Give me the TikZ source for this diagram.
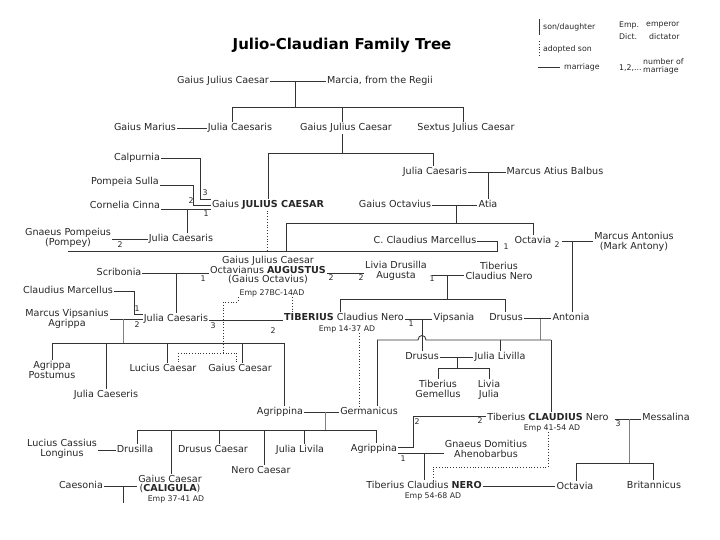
\documentclass[tikz,border=0pt]{standalone}
\usepackage{fontspec}
\setmainfont{DejaVu Sans}
\usetikzlibrary{calc}
\newcommand\namefont{\fontsize{9.6}{9.4}\selectfont}
\newcommand\empfont{\fontsize{7.8}{8}\selectfont}
\newcommand\numfont{\fontsize{7.8}{8}\selectfont}
\newcommand\legfont{\fontsize{7.8}{8.2}\selectfont}
\colorlet{ink}{black!85}
\colorlet{lnk}{black!80}
\colorlet{lgray}{black!50}
\tikzset{
  pn/.style={font=\namefont, text=ink, inner sep=1pt, text height=7pt, text depth=2pt},
  pn2/.style={font=\namefont, text=ink, inner sep=1pt, align=center},
  emp/.style={font=\empfont, text=ink, inner sep=0.5pt},
  num/.style={font=\numfont, text=ink, inner sep=0pt},
  leg/.style={font=\legfont, text=ink, inner sep=1pt},
  ttl/.style={font=\fontsize{15}{18}\selectfont\bfseries, inner sep=0pt},
  ln/.style={draw=lnk, line width=0.85pt},
  lnl/.style={draw=lgray, line width=0.7pt},
  adp/.style={draw=lnk, line width=0.8pt, dotted}
}

\begin{document}
\begin{tikzpicture}[x=1pt, y=-1pt]
\useasboundingbox (0,0) rectangle (720,540);

\node[ttl] (title) at (342,45) {Julio-Claudian Family Tree};

% legend
\node[leg, anchor=west] (lgson) at (542,27) {son/daughter};
\node[leg, anchor=west] (lgadp) at (542,49) {adopted son};
\node[leg, anchor=west] (lgmar) at (563,67) {marriage};
\node[leg, anchor=west] (lgemp) at (618,25) {Emp.};
\node[leg, anchor=west] (lgempt) at (645,25) {emperor};
\node[leg, anchor=west] (lgdict) at (618,37) {Dict.};
\node[leg, anchor=west] (lgdictt) at (648,37) {dictator};
\node[leg, anchor=west] (lgnum) at (618,68) {1,2,...};
\node[leg, anchor=west, align=left, font=\fontsize{7.8}{8}\selectfont] (lgnumt) at (642,66) {number of\\marriage};
\draw[ln] ([xshift=-3pt,yshift=3pt]lgson.north west) -- ([xshift=-3pt,yshift=-3pt]lgson.south west);
\draw[adp] ([xshift=-3pt,yshift=3pt]lgadp.north west) -- ([xshift=-3pt,yshift=-3pt]lgadp.south west);
\draw[ln] ([xshift=-3pt]lgmar.west) -- ++(-22,0);

% people
\node[pn] (gjcA) at (223,81) {Gaius Julius Caesar};
\node[pn] (marcia) at (380,81) {Marcia, from the Regii};
\node[pn] (marius) at (145,128) {Gaius Marius};
\node[pn] (juliaA) at (240,128) {Julia Caesaris};
\node[pn] (gjcB) at (346,128) {Gaius Julius Caesar};
\node[pn] (sextus) at (466,128) {Sextus Julius Caesar};
\node[pn] (calpurnia) at (137,158) {Calpurnia};
\node[pn] (pompeia) at (125,182) {Pompeia Sulla};
\node[pn] (cornelia) at (125,206) {Cornelia Cinna};
\node[pn] (caesar) at (268,205) {Gaius \textbf{JULIUS CAESAR}};
\node[pn] (juliaB) at (435,172) {Julia Caesaris};
\node[pn] (balbus) at (555,172) {Marcus Atius Balbus};
\node[pn] (octavius) at (395,205) {Gaius Octavius};
\node[pn] (atia) at (488,205) {Atia};
\node[pn2] (pompey) at (68,238) {Gnaeus Pompeius\\(Pompey)};
\node[pn] (juliaC) at (181,239) {Julia Caesaris};
\node[pn] (marcellusA) at (425,241) {C. Claudius Marcellus};
\node[pn] (octaviaA) at (533,241) {Octavia};
\node[pn2] (antonius) at (634,242) {Marcus Antonius\\(Mark Antony)};
\node[pn2] (augustus) at (268,270) {Gaius Julius Caesar\\Octavianus \textbf{AUGUSTUS}\\(Gaius Octavius)};
\node[emp] (empAug) at (272,293) {Emp 27BC-14AD};
\node[pn2] (livia) at (396,271) {Livia Drusilla\\Augusta};
\node[pn2] (nero) at (499,271) {Tiberius\\Claudius Nero};
\node[pn] (scribonia) at (119,273) {Scribonia};
\node[pn] (marcellusB) at (68,291) {Claudius Marcellus};
\node[pn2] (agrippa) at (67,319) {Marcus Vipsanius\\Agrippa};
\node[pn] (juliaD) at (176,319) {Julia Caesaris};
\node[pn] (tiberius) at (344,318) {\textbf{TIBERIUS} Claudius Nero};
\node[emp] (empTib) at (347,329) {Emp 14-37 AD};
\node[pn] (vipsania) at (454,318) {Vipsania};
\node[pn] (drusus) at (506,318) {Drusus};
\node[pn] (antonia) at (571,318) {Antonia};
\node[pn2] (postumus) at (52,370) {Agrippa\\Postumus};
\node[pn] (lucius) at (163,369) {Lucius Caesar};
\node[pn] (gaius) at (240,369) {Gaius Caesar};
\node[pn] (juliaE) at (106,395) {Julia Caeseris};
\node[pn] (drususB) at (422,357) {Drusus};
\node[pn] (livilla) at (500,357) {Julia Livilla};
\node[pn2] (gemellus) at (438,389) {Tiberius\\Gemellus};
\node[pn2] (liviaJ) at (489,390) {Livia\\Julia};
\node[pn] (agrippinaA) at (280,412) {Agrippina};
\node[pn] (germanicus) at (369,412) {Germanicus};
\node[pn] (claudius) at (548,418) {Tiberius \textbf{CLAUDIUS} Nero};
\node[emp] (empCla) at (552,428) {Emp 41-54 AD};
\node[pn] (messalina) at (666,418) {Messalina};
\node[pn2] (longinus) at (62,449) {Lucius Cassius\\Longinus};
\node[pn] (drusilla) at (135,450) {Drusilla};
\node[pn] (drususC) at (213,450) {Drusus Caesar};
\node[pn] (livilaB) at (300,450) {Julia Livila};
\node[pn] (agrippinaB) at (374,449) {Agrippina};
\node[pn2] (gnaeus) at (486,449) {Gnaeus Domitius\\Ahenobarbus};
\node[pn] (neroC) at (261,471) {Nero Caesar};
\node[pn2] (caligula) at (170,484) {Gaius Caesar\\(\textbf{CALIGULA})};
\node[emp] (empCal) at (176,499) {Emp 37-41 AD};
\node[pn] (caesonia) at (81,486) {Caesonia};
\node[pn] (neroD) at (424,486) {Tiberius Claudius \textbf{NERO}};
\node[emp] (empNero) at (433,496) {Emp 54-68 AD};
\node[pn] (octaviaB) at (575,487) {Octavia};
\node[pn] (britannicus) at (654,486) {Britannicus};

% numbers of marriage
\foreach \x/\y/\t [count=\i] in {205/193/3, 191/201/2, 206/214/1, 120/245/2, 506/247/1,
    557/245/2, 203/279/1, 331/278/2, 361/278/2, 432/279/1, 137/309/1, 137/325/2,
    213/326/3, 273/331/2, 411/324/1, 417/422/2, 480/421/2, 403/459/1, 618/424/3}
  \node[num] (n\i) at (\x,\y) {\t};

% Gaius Julius Caesar and Marcia
\draw[ln] (gjcA) -- (marcia);
\coordinate (jA) at (295,81);
\draw[ln] (jA) -- (295,107) coordinate (bA);
\draw[ln] (232,107) -- (463,107);
\foreach \x/\p in {232/juliaA, 342/gjcB, 463/sextus}
  \draw[ln] (\x,107) -- (\x,0 |- \p.north);
\draw[ln] (marius) -- (juliaA);

% children of Gaius Julius Caesar
\draw[ln] (342,0 |- gjcB.south) -- (342,153);
\draw[ln] (268,153) -- (433,153);
\foreach \x/\p in {268/caesar, 433/juliaB}
  \draw[ln] (\x,153) -- (\x,0 |- \p.north);

% Julius Caesar's wives
\draw[ln] (calpurnia.east) -| (200,199) -- (caesar.west |- 0,199);
\draw[ln] (pompeia.east |- 0,185) -| (193,205) -- (caesar.west);
\draw[ln] (cornelia.east |- 0,209) -- (caesar.west |- 0,209);
\draw[ln] (187,209) -- (187,0 |- juliaC.north);
\draw[ln] (pompey.east |- juliaC) -- (juliaC);

% Atia and Octavius
\draw[ln] (juliaB) -- (balbus);
\draw[ln] (488,172) -- (488,0 |- atia.north);
\draw[ln] (octavius) -- (atia);
\draw[ln] (456,205) -- (456,223);
\draw[ln] (286,223) -- (533,223);
\draw[ln] (286,223) -- (286,251);
\draw[ln] (533,223) -- (533,0 |- octaviaA.north);
\draw[adp] (267,0 |- caesar.south) -- (267,251);

% Octavia
\draw[ln] (marcellusA.east) -| (497,251) -- (68,251);
\draw[ln] ([xshift=9pt]octaviaA.east) -- (octaviaA.east -| antonius.west);
\draw[ln] (572,241) -- (572,0 |- antonia.north);

% Augustus
\draw[ln] (scribonia) -- (scribonia -| augustus.west);
\draw[ln] (176,273) -- (176,0 |- juliaD.north);
\draw[ln] (augustus.east |- 0,273) -- (livia.west |- 0,273);
\draw[ln] ([xshift=4pt]livia.east |- 0,275) -- (nero.west |- 0,275);
\draw[ln] (447,275) -- (447,299);
\draw[ln] (340,299) -- (505,299);
\foreach \x/\p in {340/tiberius, 505/drusus}
  \draw[ln] (\x,299) -- (\x,0 |- \p.north);

% Julia and her husbands
\draw[ln] (marcellusB.east) -| (134,314) -- (juliaD.west |- 0,314);
\draw[ln] (agrippa.east |- 0,319) -- (juliaD.west);
\draw[ln] (juliaD.east |- 0,320) -- (tiberius.west |- 0,320);
\draw[lnl] (123,319) -- (123,343);
\draw[ln] (52,343) -- (284,343);
\foreach \x/\p in {52/postumus, 106/juliaE, 167/lucius, 242/gaius, 284/agrippinaA}
  \draw[ln] (\x,343) -- (\x,0 |- \p.north);

% adoptions
\draw[adp] (238,0 |- empAug.south) -- (238,302) -- (223,302) -- (223,353);
\draw[adp] (178,353) -- (236,353);
\foreach \x/\p in {178/lucius, 236/gaius}
  \draw[adp] (\x,353) -- (\x,0 |- \p.north);
\draw[adp] (292,0 |- empAug.south) -- (292,0 |- tiberius.north);
\draw[adp] (359,0 |- empTib.south) -- (359,0 |- germanicus.north);

% Tiberius, Drusus and Antonia
\draw[ln] (tiberius.east |- 0,319) -- (vipsania.west |- 0,319);
\draw[ln] (422,319) -- (422,0 |- drususB.north);
\draw[ln] (drusus) -- (antonia);
\draw[lnl] (540,319) -- (540,340);
\draw[ln] (377,340) -- (418,340) .. controls (418,334) and (426,334) .. (426,340) -- (551,340);
\foreach \x/\p in {377/germanicus, 500/livilla, 551/claudius}
  \draw[ln] (\x,340) -- (\x,0 |- \p.north);
\draw[ln] (drususB) -- (livilla);
\draw[ln] (457,357) -- (457,368);
\draw[ln] (438,368) -- (489,368);
\foreach \x/\p in {438/gemellus, 489/liviaJ}
  \draw[ln] (\x,368) -- (\x,0 |- \p.north);

% Germanicus and Agrippina
\draw[ln] (agrippinaA) -- (germanicus);
\draw[lnl] (325,412) -- (325,430);
\draw[ln, line width=0.75pt] (137,430) -- (376,430);
\foreach \x/\p in {137/drusilla, 171/caligula, 219/drususC, 264/neroC, 304/livilaB, 376/agrippinaB}
  \draw[ln, line width=0.75pt] (\x,430) -- (\x,0 |- \p.north);
\draw[ln] (longinus.east |- drusilla) -- (drusilla);
\draw[ln] (caesonia) -- (caesonia -| caligula.west);
\coordinate (cut) at (123,503);
\draw[ln] (123,486) -- (cut);

% Claudius
\draw[ln] (agrippinaB.east |- 0,447) -| (413,416) -- (claudius.west |- 0,416);
\draw[ln] (agrippinaB.east |- 0,453) -- (gnaeus.west |- 0,453);
\draw[ln] (424,453) -- (424,0 |- neroD.north);
\draw[adp] (548,0 |- empCla.south) -- (548,467) -- (433,467) -- (433,0 |- neroD.north);
\draw[ln] (neroD.east |- 0,486) -- (octaviaB.west |- 0,486);
\draw[ln] ([xshift=5pt]claudius.east |- 0,419) -- (messalina.west |- 0,419);
\draw[lnl] (629,419) -- (629,463);
\draw[ln] (576,463) -- (653,463);
\foreach \x/\p in {576/octaviaB, 653/britannicus}
  \draw[ln] (\x,463) -- (\x,0 |- \p.north);
\end{tikzpicture}
\end{document}
